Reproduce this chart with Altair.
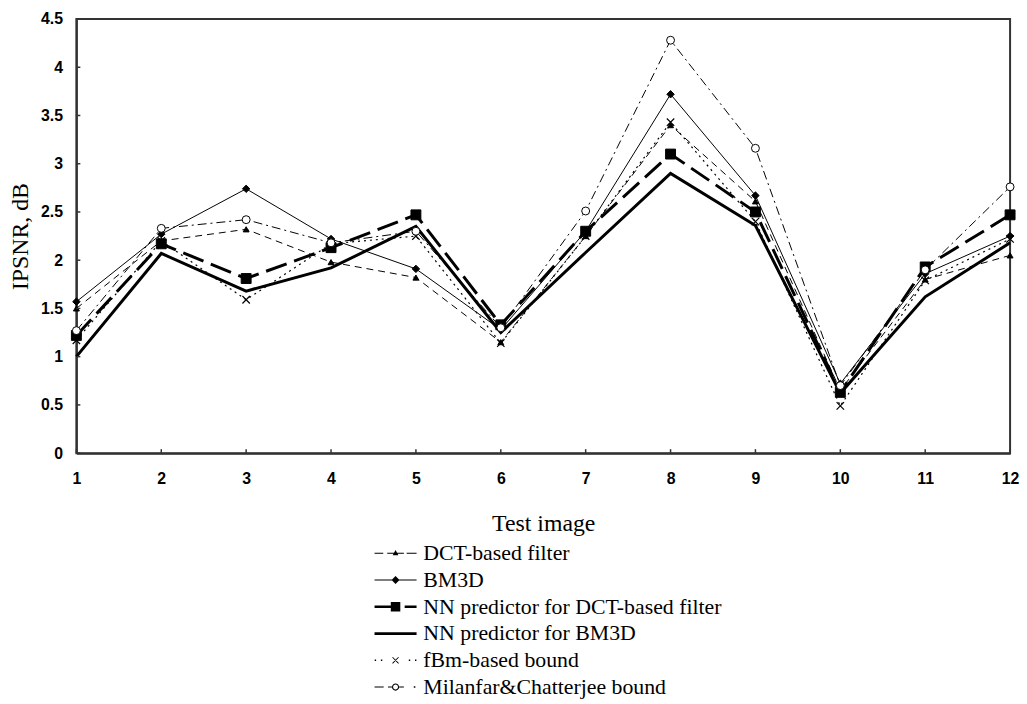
import altair as alt
import pandas as pd

test_image = list(range(1, 13))
series_names = [
    "DCT-based filter",
    "BM3D",
    "NN predictor for DCT-based filter",
    "NN predictor for BM3D",
    "fBm-based bound",
    "Milanfar&Chatterjee bound",
]
dct = [1.50, 2.20, 2.32, 1.98, 1.82, 1.15, 2.25, 3.40, 2.61, 0.65, 1.80, 2.05]
bm3d = [1.57, 2.27, 2.74, 2.22, 1.91, 1.28, 2.30, 3.72, 2.67, 0.72, 1.86, 2.25]
nn_dct = [1.22, 2.17, 1.81, 2.13, 2.47, 1.33, 2.30, 3.10, 2.50, 0.63, 1.93, 2.47]
nn_bm3d = [1.00, 2.07, 1.68, 1.92, 2.35, 1.25, 2.08, 2.90, 2.36, 0.62, 1.62, 2.18]
fbm = [1.17, 2.20, 1.59, 2.17, 2.25, 1.14, 2.25, 3.43, 2.40, 0.49, 1.79, 2.22]
milanfar = [1.27, 2.33, 2.42, 2.18, 2.30, 1.30, 2.51, 4.28, 3.16, 0.70, 1.90, 2.76]
y_ticks = [0, 0.5, 1, 1.5, 2, 2.5, 3, 3.5, 4, 4.5]

all_values = [dct, bm3d, nn_dct, nn_bm3d, fbm, milanfar]
rows = []
for name, vals in zip(series_names, all_values):
    for xi, v in zip(test_image, vals):
        rows.append({"image": xi, "ipsnr": v, "series": name})
df = pd.DataFrame(rows)

XPATH = "M-1,-1L1,1M-1,1L1,-1"
styles = {
    "DCT-based filter": dict(dash=[7, 5], width=1, shape="triangle-up", size=36, fill="black"),
    "BM3D": dict(dash=None, width=1, shape="diamond", size=56, fill="black"),
    "NN predictor for DCT-based filter": dict(dash=[22, 8], width=3, shape="square", size=100, fill="black"),
    "NN predictor for BM3D": dict(dash=None, width=3, shape=None),
    "fBm-based bound": dict(dash=[2, 4], width=1.2, shape=XPATH, size=56, fill=None),
    "Milanfar&Chatterjee bound": dict(dash=[9, 4, 2, 4], width=1, shape="circle", size=64, fill="white"),
}


def seg(x1, x2, h=0.065):
    """thin horizontal bar (filled) for legend glyphs, in symbol units"""
    return f"M{x1},{-h}H{x2}V{h}H{x1}Z"


XMARK = ("M-0.42,-0.34L0.34,0.42L0.42,0.34L-0.34,-0.42Z"
         "M-0.42,0.34L-0.34,0.42L0.42,-0.34L0.34,-0.42Z")
RING = ("M0.45,0A0.45,0.45,0,1,1,-0.45,0A0.45,0.45,0,1,1,0.45,0Z"
        "M0.31,0A0.31,0.31,0,1,0,-0.31,0A0.31,0.31,0,1,0,0.31,0Z")

# legend glyphs: line sample + marker, in symbol units
legend_paths = [
    seg(-2.65, -1.55) + seg(-1.05, 1.05) + seg(1.4, 2.65) + "M0,-0.42L0.36,0.24L-0.36,0.24Z",
    seg(-2.65, 2.65) + "M0,-0.5L0.5,0L0,0.5L-0.5,0Z",
    seg(-2.65, -0.6, 0.17) + "M-0.6,-0.6H0.6V0.6H-0.6Z" + seg(1.15, 2.65, 0.17),
    seg(-2.65, 2.65, 0.17),
    seg(-2.63, -2.45, 0.09) + seg(-1.85, -1.67, 0.09) + seg(1.67, 1.85, 0.09) + seg(2.45, 2.63, 0.09) + XMARK,
    seg(-2.65, -1.5) + seg(-0.95, -0.45) + seg(0.45, 1.05) + seg(2.3, 2.5, 0.09) + RING,
]

FRAME = "#333333"
SERIF = "Liberation Serif"
SANS = "Liberation Sans"
xscale = alt.Scale(domain=[1, 12], nice=False, zero=False)
yscale = alt.Scale(domain=[0, 4.5], nice=False, zero=True)

x_axis = alt.Axis(
    values=test_image, orient="bottom", ticks=False, grid=False,
    labelFlush=False,
    labelFont=SANS, labelFontWeight="bold", labelFontSize=16,
    labelColor="black", labelPadding=18, domainColor=FRAME, domainWidth=2,
    title="Test image", titleFont=SERIF, titleFontSize=24,
    titleFontWeight="normal", titleColor="black", titlePadding=25,
)
y_axis = alt.Axis(
    values=y_ticks, orient="left", ticks=False, grid=False, format="~g",
    labelFlush=False,
    labelFont=SANS, labelFontWeight="bold", labelFontSize=16,
    labelColor="black", labelPadding=14, domainColor=FRAME, domainWidth=2,
    title="IPSNR, dB", titleFont=SERIF, titleFontSize=24,
    titleFontWeight="normal", titleColor="black", titlePadding=8,
)


def X(field):
    return alt.X(field, scale=xscale, axis=x_axis)


def Y(field):
    return alt.Y(field, scale=yscale, axis=y_axis)


base = alt.Chart(df)
layers = []
for name in series_names:
    st = styles[name]
    sub = base.transform_filter(alt.datum.series == name)
    line_kwargs = dict(color="black", strokeWidth=st["width"])
    if st["dash"]:
        line_kwargs["strokeDash"] = st["dash"]
    layers.append(sub.mark_line(**line_kwargs).encode(x=X("image:Q"), y=Y("ipsnr:Q")))

for name in series_names:
    st = styles[name]
    if st["shape"] is None:
        continue
    sub = base.transform_filter(alt.datum.series == name)
    if st["fill"] is None:
        pt = sub.mark_point(shape=st["shape"], size=st["size"], filled=False,
                            color="black", strokeWidth=1.2, opacity=1)
    else:
        pt = sub.mark_point(shape=st["shape"], size=st["size"], filled=True,
                            fill=st["fill"], stroke="black", strokeWidth=1, opacity=1)
    layers.append(pt.encode(x=X("image:Q"), y=Y("ipsnr:Q")))

# inward tick marks on the bottom and left frame, placed at the axis tick values
xtick_df = pd.DataFrame({"image": test_image})
ytick_df = pd.DataFrame({"ipsnr": y_ticks})
xticks = alt.Chart(xtick_df).mark_tick(
    orient="vertical", size=4, thickness=1.5, color=FRAME, yOffset=-2, opacity=1
).encode(
    x=X("image:Q"),
    y=alt.datum(0, scale=yscale, axis=y_axis),
)
yticks = alt.Chart(ytick_df).mark_tick(
    orient="horizontal", size=4, thickness=1.5, color=FRAME, xOffset=2, opacity=1
).encode(
    x=alt.datum(1, scale=xscale, axis=x_axis),
    y=Y("ipsnr:Q"),
)
layers += [xticks, yticks]

legend_layer = base.mark_point(filled=True, color="black", opacity=0).encode(
    x=X("image:Q"),
    y=Y("ipsnr:Q"),
    shape=alt.Shape(
        "series:N",
        scale=alt.Scale(domain=series_names, range=legend_paths),
        legend=alt.Legend(
            title=None, orient="none", legendX=311, legendY=528,
            direction="vertical", columns=1,
            labelFont=SERIF, labelFontSize=22, labelColor="black",
            labelLimit=600, labelOffset=17, rowPadding=5,
            symbolSize=256, symbolOpacity=1, symbolFillColor="black",
            symbolStrokeColor="black", symbolStrokeWidth=0,
        ),
    ),
)
layers.append(legend_layer)

chart = alt.layer(*layers).properties(
    width=942, height=438,
    padding={"left": 0, "top": 0, "right": 0, "bottom": 5},
    background="white",
).configure_view(
    stroke=FRAME, strokeWidth=2
).configure_legend(
    labelFont=SERIF, labelFontSize=22, labelColor="black", labelLimit=600,
    labelOffset=17, rowPadding=5,
)

chart.save("out.html", embed_options={"renderer": "svg", "actions": False})
